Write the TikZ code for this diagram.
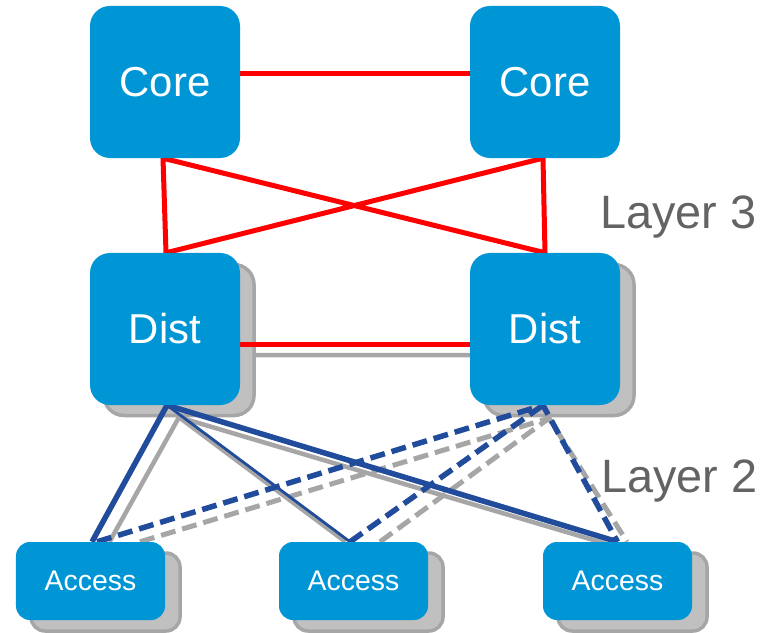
\documentclass[tikz,border=0pt]{standalone}
\usepackage{fontspec}
\setmainfont{Liberation Sans}
\definecolor{boxblue}{HTML}{0096D6}
\definecolor{linkblue}{HTML}{214B9B}
\definecolor{linkred}{HTML}{FF0000}
\definecolor{linkgray}{HTML}{A6A6A6}
\definecolor{shadefill}{HTML}{C0C0C0}
\definecolor{shadeline}{HTML}{A6A6A6}
\definecolor{labelgray}{HTML}{636363}
\pgfdeclarelayer{shades}
\pgfdeclarelayer{links}
\pgfsetlayers{shades,links,main}
\begin{document}
\begin{tikzpicture}[x=1bp,y=-1bp,
  box/.style={fill=boxblue,text=white,inner sep=0pt},
  bigbox/.style={box,minimum width=150bp,minimum height=152bp,rounded corners=20bp,font=\fontsize{42}{42}\selectfont},
  smallbox/.style={box,minimum width=149bp,minimum height=78bp,rounded corners=14bp,font=\fontsize{28.5}{28.5}\selectfont},
  shade/.style={fill=shadefill,draw=shadeline,line width=3.5bp,inner sep=0pt},
  bigshade/.style={shade,minimum width=150bp,minimum height=151bp,rounded corners=20bp},
  smallshade/.style={shade,minimum width=149bp,minimum height=78bp,rounded corners=14bp},
  redlink/.style={draw=linkred,line width=5bp},
  bluethick/.style={draw=linkblue,line width=5.5bp},
  bluethin/.style={draw=linkblue,line width=2.8bp},
  bluedash/.style={draw=linkblue,line width=5.5bp,dash pattern=on 15bp off 7bp},
  graysolid/.style={draw=linkgray,line width=4.5bp},
  graydash/.style={draw=linkgray,line width=5bp,dash pattern=on 15bp off 7bp},
  layerlabel/.style={text=labelgray,inner sep=0pt,font=\fontsize{47}{47}\selectfont}]
\useasboundingbox (0,0) rectangle (775,633);

% shadow copies behind the distribution and access switches
\begin{pgfonlayer}{shades}
  \node[bigshade] (dist1s) at (179,340) {};
  \node[bigshade] (dist2s) at (559,340) {};
  \node[smallshade] (acc1s) at (105.5,592) {};
  \node[smallshade] (acc2s) at (368.5,592) {};
  \node[smallshade] (acc3s) at (632.5,592) {};
\end{pgfonlayer}

% switches
\node[bigbox] (core1) at (165,82) {Core};
\node[bigbox] (core2) at (545,82) {Core};
\node[bigbox] (dist1) at (165,329) {Dist};
\node[bigbox] (dist2) at (545,329) {Dist};
\node[smallbox] (acc1) at (90.5,581) {Access};
\node[smallbox] (acc2) at (353.5,581) {Access};
\node[smallbox] (acc3) at (617.5,581) {Access};

% layer labels
\node[layerlabel,anchor=base west] (l3) at (600,229) {Layer 3};
\node[layerlabel,anchor=base west] (l2) at (601,492) {Layer 2};

\begin{pgfonlayer}{links}
  % standby (gray) links
  \draw[graysolid] ([yshift=-15bp]dist1s.east) -- ([yshift=-26bp]dist2.west);
  \draw[graysolid] (dist1s.south) -- ([xshift=19bp]acc1.north);
  \draw[graysolid] (dist1s.south) -- ([xshift=-8bp]acc2.north);
  \draw[graysolid] (dist1s.south) -- ([xshift=-8bp,yshift=-3bp]acc3.north);
  \draw[graydash,line join=miter] ([xshift=49.5bp]acc1.north) -- ([xshift=-10bp,yshift=-1bp]dist2s.south) -- ([xshift=9.5bp]acc3.north);
  \draw[graydash] ([xshift=26.5bp]acc2.north) -- ([xshift=-10bp,yshift=-1bp]dist2s.south);

  % layer 3 links
  \draw[redlink] ([yshift=8bp]core1.east) -- ([yshift=8bp]core2.west);
  \draw[redlink,line join=miter] ([xshift=-2bp]core1.south) -- ([xshift=1bp]dist1.north)
    -- ([xshift=-2bp]core2.south) -- (dist2.north) -- cycle;
  \draw[redlink] ([yshift=-15bp]dist1.east) -- ([yshift=-15bp]dist2.west);

  % layer 2 links
  \draw[bluethick,line join=miter] ([xshift=1.5bp]acc1.north) -- ([xshift=2bp]dist1.south) -- (acc3.north);
  \draw[bluethin] ([xshift=2bp]dist1.south) -- ([xshift=-3.5bp]acc2.north);
  \draw[bluedash,line join=miter] ([xshift=6.5bp]acc1.north) -- ([xshift=-2bp]dist2.south) -- (acc3.north);
  \draw[bluedash] ([xshift=-3.5bp]acc2.north) -- ([xshift=-2bp]dist2.south);
\end{pgfonlayer}
\end{tikzpicture}
\end{document}
